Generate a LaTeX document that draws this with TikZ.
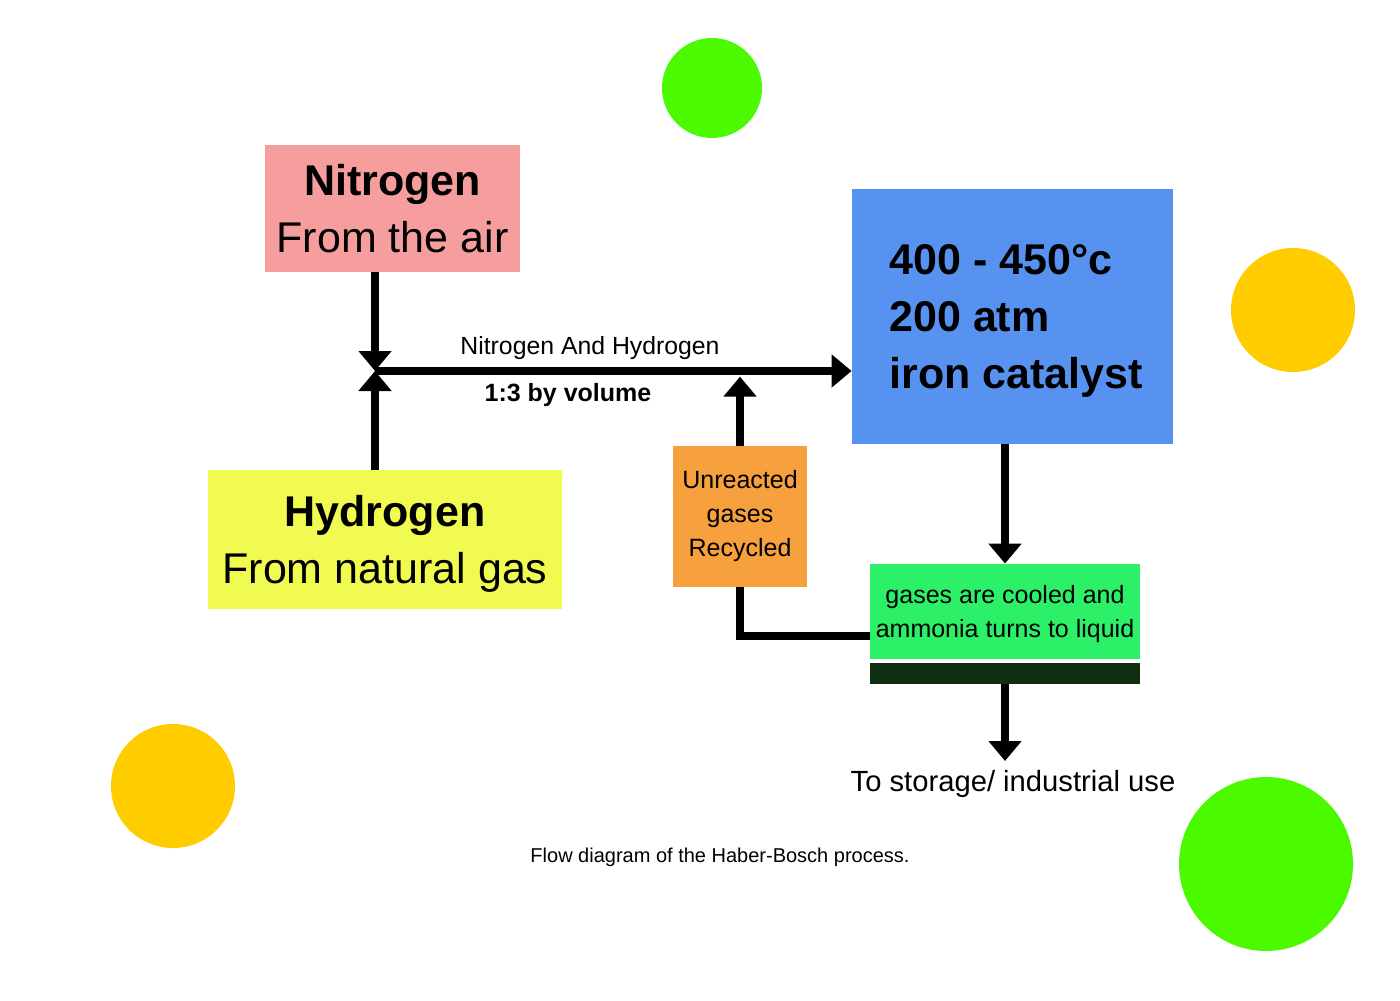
\documentclass[tikz,border=0pt]{standalone}
\usepackage{fontspec}
\setmainfont{Liberation Sans}
\usepackage{tikz}
\usetikzlibrary{arrows.meta}
\usetikzlibrary{positioning}
\usetikzlibrary{calc}
\definecolor{NitroPink}{RGB}{246,158,158}
\definecolor{HydroYellow}{RGB}{240,250,80}
\definecolor{CatBlue}{RGB}{88,146,240}
\definecolor{RecOrange}{RGB}{246,160,62}
\definecolor{CoolGreen}{RGB}{44,240,104}
\definecolor{BarGreen}{RGB}{14,48,14}
\definecolor{DotGreen}{RGB}{76,250,0}
\definecolor{DotOrange}{RGB}{255,204,0}
\begin{document}
\begin{tikzpicture}[x=0.5pt,y=-0.5pt,line join=miter,>={Triangle[width=16pt,length=10pt]},
  box/.style={inner sep=0pt,align=center,font=\fontsize{21.5}{28.5}\selectfont},
  smallbox/.style={inner sep=0pt,align=center,font=\fontsize{12.5}{17}\selectfont},
  flow/.style={->,line width=4pt}]
\useasboundingbox (0,0) rectangle (1400,1000);
% dots
\fill[DotGreen] (712,88) circle (50);
\fill[DotOrange] (1293,310) circle (62);
\fill[DotOrange] (173,786) circle (62);
\fill[DotGreen] (1266,864) circle (87);
% boxes
\node[box,fill=NitroPink,minimum width=127.5pt,minimum height=63.5pt] (nit) at (392.5,208.5) {\textbf{Nitrogen}\\From the air};
\node[box,fill=HydroYellow,minimum width=177pt,minimum height=69.5pt,text depth=-1pt] (hyd) at (385,539.5) {\textbf{Hydrogen}\\From natural gas};
\node[fill=CatBlue,inner sep=0pt,minimum width=160.5pt,minimum height=127.5pt] (cat) at (1012.5,316.5) {};
\node[inner sep=0pt,align=left,font=\bfseries\fontsize{21.5}{28.7}\selectfont,anchor=west] (catlabel) at (889,321) {400 - 450\textdegree c\\200 atm\\iron catalyst};
\node[smallbox,fill=RecOrange,minimum width=67pt,minimum height=70.5pt] (rec) at (740,516.5) {Unreacted\\gases\\Recycled};
\node[smallbox,fill=CoolGreen,minimum width=135pt,minimum height=47.5pt,text depth=-3.4pt] (cool) at (1005,611.5) {gases are cooled and\\ammonia turns to liquid};
\node[fill=BarGreen,inner sep=0pt,minimum width=135pt,minimum height=10.5pt] (bar) at (1005,673.5) {};
\node[inner sep=0pt,font=\fontsize{14.6}{17}\selectfont] (store) at (1013,784) {To storage/ industrial use};
\node[inner sep=0pt,font=\fontsize{10}{12}\selectfont] (caption) at (720,857) {Flow diagram of the Haber-Bosch process.};
% flow lines
\coordinate (jn) at (375,371);
\coordinate (out) at ($(bar.south |- store.north)+(0,-9)$);
\draw[flow] (nit.south -| jn) -- (jn);
\draw[flow] (hyd.north -| jn) -- (jn);
\draw[flow] (jn) -- (cat.west |- jn);
\node[inner sep=0pt,font=\fontsize{12.4}{15}\selectfont] (mix) at (590,348) {Nitrogen And Hydrogen};
\node[inner sep=0pt,font=\bfseries\fontsize{12.5}{15}\selectfont] (ratio) at (568,395) {1:3 by volume};
\draw[flow] (rec.north) -- ++(0,-69);
\draw[line width=4pt] ($(cool.west)+(0,24)$) -| (rec.south);
\draw[flow] (cat.south -| cool.north) -- (cool.north);
\draw[flow] (bar.south) -- (out);
\end{tikzpicture}
\end{document}
